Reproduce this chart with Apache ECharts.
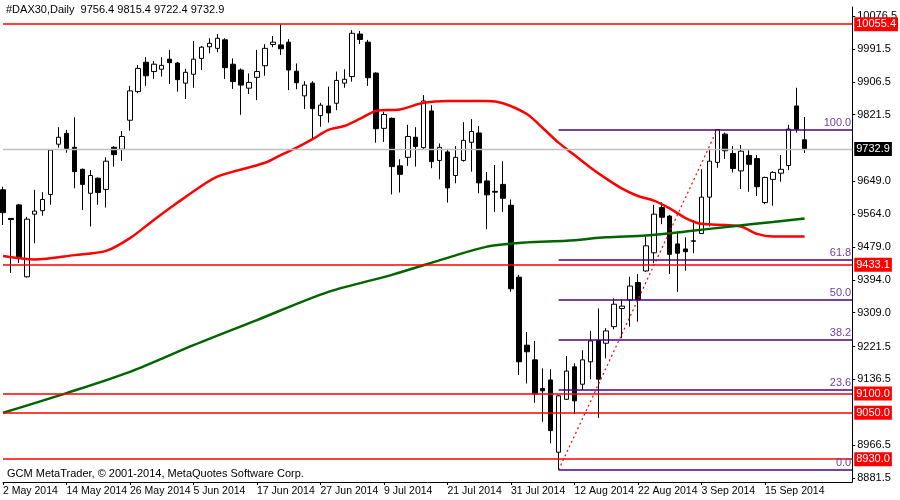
<!DOCTYPE html>
<html>
<head>
<meta charset="utf-8">
<script src="https://cdn.jsdelivr.net/npm/echarts@6/dist/echarts.min.js"></script>
<style>
  html, body { margin: 0; padding: 0; background: #fff; }
  #chart { width: 900px; height: 500px; }
</style>
</head>
<body>
<div id="chart"></div>
<script>
// trading days, May..Sep 2014 (plus a few empty future slots)
const MAY_DAYS = [2, 5, 6, 7, 8, 9, 12, 13, 14, 15, 16, 19, 20, 21, 22, 23, 26, 27, 28, 29, 30];
const JUN_DAYS = [2, 3, 4, 5, 6, 9, 10, 11, 12, 13, 16, 17, 18, 19, 20, 23, 24, 25, 26, 27, 30];
const JUL_DAYS = [1, 2, 3, 4, 7, 8, 9, 10, 11, 14, 15, 16, 17, 18, 21, 22, 23, 24, 25, 28, 29, 30, 31];
const AUG_DAYS = [1, 4, 5, 6, 7, 8, 11, 12, 13, 14, 15, 18, 19, 20, 21, 22, 25, 26, 27, 28, 29];
const SEP_DAYS = [1, 2, 3, 4, 5, 8, 9, 10, 11, 12, 15, 16, 17, 18, 19, 22, 23, 24, 25, 26, 29, 30];
const LABEL_DAYS = ['2 May 2014', '14 May 2014', '26 May 2014', '5 Jun 2014', '17 Jun 2014', '27 Jun 2014',
  '9 Jul 2014', '21 Jul 2014', '31 Jul 2014', '12 Aug 2014', '22 Aug 2014', '3 Sep 2014', '15 Sep 2014'];

const opens = [9627,9553,9588,9402,9564,9573,9615,9745,9773,9737,9680,9618,9657,9628,9737,9732,9807,9881,9957,9933,
  9939,9965,9955,9903,9926,9967,9997,9993,10015,9952,9937,9890,9918,9948,10003,10002,10009,9934,9870,9903,
  9819,9844,9851,9903,9920,10030,10009,9929,9786,9812,9689,9711,9763,9736,9831,9703,9725,9664,9703,9750,
  9774,9650,9623,9641,9587,9401,9225,9187,9113,9135,8948,9085,9169,9124,9182,9237,9230,9273,9320,9342,
  9387,9417,9464,9581,9559,9487,9474,9495,9514,9608,9698,9771,9721,9676,9716,9708,9594,9654,9670,9690,
  9844,9756.4];
const closes = [9568,9550,9451,9551,9572,9602,9730,9763,9734,9674,9641,9664,9620,9701,9718,9765,9883,9941,9922,9952,
  9949,9956,9912,9931,9965,9996,10006,10019,9943,9907,9898,9905,9933,9993,10009,9992,9937,9904,9898,9837,
  9846,9826,9910,9913,10032,10016,9917,9785,9822,9687,9667,9765,9739,9857,9700,9737,9632,9711,9755,9778,
  9645,9614,9621,9605,9371,9182,9208,9099,9107,9004,9094,9158,9081,9187,9236,9137,9262,9331,9326,9378,
  9342,9482,9564,9556,9460,9463,9467,9494,9608,9701,9783,9728,9682,9727,9693,9635,9659,9672,9680,9784,
  9784,9732.9];
const lows = [9536,9412,9438,9400,9489,9560,9588,9736,9723,9631,9575,9532,9588,9581,9687,9702,9780,9877,9896,9914,
  9920,9901,9881,9862,9891,9937,9980,9983,9914,9888,9821,9875,9859,9922,9996,9976,9885,9887,9836,9756,
  9790,9801,9833,9891,9907,10004,9896,9749,9751,9615,9620,9689,9687,9730,9683,9654,9594,9644,9700,9674,
  9618,9525,9570,9570,9363,9148,9126,9076,9027,8971,8902,9083,9047,9109,9137,9037,9191,9266,9243,9273,
  9286,9415,9437,9538,9409,9363,9418,9463,9513,9532,9684,9707,9672,9629,9622,9611,9590,9586,9648,9678,
  9775,9722.4];
const highs = [9635,9554,9590,9557,9627,9621,9732,9789,9782,9815,9682,9678,9659,9711,9740,9779,9896,9950,9970,9960,
  9970,9989,9958,9940,10012,9999,10019,10030,10019,9967,9941,9928,9989,10004,10025,10055,10017,9954,9908,9908,
  9852,9894,9933,9939,10040,10038,10015,9931,9829,9814,9706,9795,9789,9872,9846,9747,9730,9740,9802,9810,
  9792,9673,9691,9701,9602,9407,9259,9236,9165,9163,9096,9197,9178,9212,9262,9320,9269,9346,9344,9402,
  9409,9506,9588,9595,9562,9519,9504,9549,9680,9732,9783.6,9775,9740,9743,9732,9717,9661,9675,9717,9795,
  9891,9815.4];

// moving averages: [bar index, value]
const maRed = [[0,9456],[4,9447],[9,9458],[13,9469],[16,9502],[19,9549],[22,9594],[25,9637],[27,9661],[29,9674],
  [33,9697],[35,9717],[37,9736],[39,9758],[41,9782],[43,9792],[45,9811],[47,9831],[50,9835],[53,9852],
  [56,9857],[61,9857],[63,9851],[66,9823],[68,9787],[70,9749],[72,9717],[74,9685],[76,9656],[78,9630],
  [80,9611],[82,9599],[84,9579],[86,9554],[88,9539],[91,9536],[93,9532],[95,9513],[97,9506],[101,9506]];
const maGreen = [[0,9050],[8,9101],[16,9156],[24,9225],[32,9290],[41,9363],[49,9407],[56,9451],[61,9480],[66,9491],
  [71,9495],[76,9504],[81,9509],[86,9519],[92,9533],[97,9544],[101,9553]];

const levels = [10055.4, 9433.1, 9100.0, 9050.0, 8930.0];
const lastPrice = 9732.9;
const fibLow = 8902.2, fibHigh = 9783.6;
const fibRatios = [0, 23.6, 38.2, 50, 61.8, 100];
const axisValues = [8881.5, 8966.5, 9136.5, 9221.5, 9309.0, 9394.0, 9479.0, 9564.0, 9649.0, 9821.5, 9906.5, 9991.5, 10076.5];

const MONTHS = [['May', MAY_DAYS], ['Jun', JUN_DAYS], ['Jul', JUL_DAYS], ['Aug', AUG_DAYS], ['Sep', SEP_DAYS]];
const dates = [];
MONTHS.forEach(([m, days]) => days.forEach(d => dates.push(`${d} ${m} 2014`)));

const candles = opens.map((o, i) => [o, closes[i], lows[i], highs[i]]);

const FONT = 'Liberation Sans';
const chart = echarts.init(document.getElementById('chart'), null, { renderer: 'canvas' });

const boxLabel = (text, bg) => ({
  show: true, position: 'end', formatter: text, color: '#fff', backgroundColor: bg,
  padding: [2, 2, 1, 2], fontSize: 11, fontFamily: FONT, distance: 2
});

const levelLines = levels.map(v => ({ yAxis: v, label: boxLabel(v.toFixed(1), '#ff0000') }));

const fibLines = fibRatios.map(r => {
  const v = fibLow + (fibHigh - fibLow) * r / 100;
  return [
    { coord: [70, v], label: { show: true, position: 'insideEndTop', formatter: r.toFixed(1), color: '#6b3fa0',
        fontSize: 11, fontFamily: FONT, distance: 1 } },
    { coord: [107, v] }
  ];
});

chart.setOption({
  animation: false,
  backgroundColor: '#fff',
  grid: { left: 2, right: 40, top: 7, bottom: 18 },
  xAxis: {
    type: 'category',
    data: dates,
    boundaryGap: false,
    axisLine: { lineStyle: { color: '#000' } },
    axisTick: { show: true, length: 3, interval: (i, v) => LABEL_DAYS.includes(v), lineStyle: { color: '#000' } },
    axisLabel: {
      interval: (i, v) => LABEL_DAYS.includes(v),
      align: 'left', margin: 4, color: '#000', fontSize: 10.5, fontFamily: FONT
    },
    splitLine: { show: false }
  },
  yAxis: {
    type: 'value',
    position: 'right',
    min: 8871,
    max: 10100,
    axisLine: { show: true, lineStyle: { color: '#000' } },
    axisTick: { show: true, length: 3, customValues: axisValues, lineStyle: { color: '#000' } },
    axisLabel: { customValues: axisValues, formatter: v => v.toFixed(1), color: '#000', fontSize: 11,
      fontFamily: FONT, margin: 5 },
    splitLine: { show: false }
  },
  graphic: [
    { type: 'text', left: 6, top: 4, style: { text: '#DAX30,Daily  9756.4 9815.4 9722.4 9732.9',
      fill: '#000', font: '11px "Liberation Sans"' } },
    { type: 'text', left: 7, top: 468, style: { text: 'GCM MetaTrader, © 2001-2014, MetaQuotes Software Corp.',
      fill: '#000', font: '11px "Liberation Sans"' } }
  ],
  series: [
    {
      type: 'candlestick',
      data: candles,
      barWidth: 5,
      itemStyle: { color: '#fff', color0: '#000', borderColor: '#000', borderColor0: '#000', borderWidth: 1 },
      markLine: {
        symbol: 'none', silent: true, animation: false,
        lineStyle: { color: '#c0c0c0', width: 1.3, type: 'solid' },
        data: [
          { yAxis: lastPrice, label: boxLabel(lastPrice.toFixed(1), '#000') },
          [{ coord: [70, fibLow], lineStyle: { color: '#ff0000', width: 1.2, type: [2, 3] }, label: { show: false } },
           { coord: [90, fibHigh] }]
        ]
      },
      z: 3
    },
    {
      type: 'line', data: maRed, showSymbol: false, smooth: 0.3,
      lineStyle: { color: '#ff0000', width: 2.5 }, z: 4,
      markLine: { symbol: 'none', silent: true, animation: false,
        lineStyle: { color: '#ff0000', width: 1.5, type: 'solid' }, data: levelLines }
    },
    {
      type: 'line', data: maGreen, showSymbol: false, smooth: 0.3,
      lineStyle: { color: '#006400', width: 2.5 }, z: 4,
      markLine: { symbol: 'none', silent: true, animation: false,
        lineStyle: { color: '#4b0082', width: 1.5, type: 'solid' }, data: fibLines }
    }
  ]
});
</script>
</body>
</html>
